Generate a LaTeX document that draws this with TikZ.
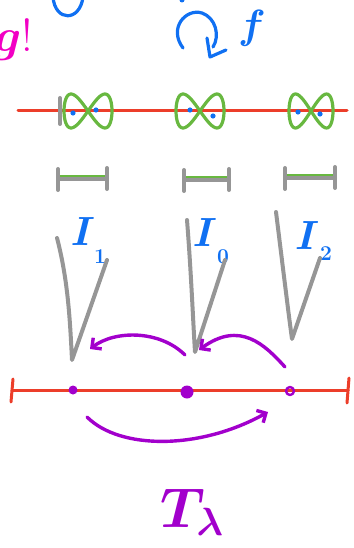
\documentclass[tikz,border=0pt]{standalone}
\usepackage{fix-cm}
\usepackage{amsmath}
\usepackage{amssymb}
\usepackage{tikz}
\usetikzlibrary{arrows.meta, positioning}

\definecolor{hred}{RGB}{236,62,42}
\definecolor{hgreen}{RGB}{104,184,64}
\definecolor{hblue}{RGB}{16,112,242}
\definecolor{hgray}{RGB}{150,150,150}
\definecolor{hpurple}{RGB}{162,0,204}
\definecolor{hpink}{RGB}{242,0,196}

\begin{document}
\begin{tikzpicture}[x=0.5mm, y=-0.5mm, line cap=round, line join=round,
    >={Straight Barb[length=3.5mm, width=7mm]},
    redline/.style={draw=hred, line width=1.5mm},
    grayline/.style={draw=hgray, line width=2mm},
    greenline/.style={draw=hgreen, line width=1.6mm},
    bluestroke/.style={draw=hblue, line width=1.6mm},
    purplestroke/.style={draw=hpurple, line width=1.7mm},
    bluetext/.style={text=hblue, inner sep=0pt, font=\fontsize{58}{58}\selectfont\boldmath},
    subtext/.style={bluetext, font=\fontsize{30}{30}\selectfont\boldmath},
    pdot/.style={circle, fill=hpurple, inner sep=0pt}]

\useasboundingbox (0,0) rectangle (353,548);
\clip (0,0) rectangle (353,548);

% 左上角
\node[text=hpink, anchor=east, inner sep=0pt, font=\fontsize{66}{66}\selectfont\boldmath] (gmark) at (33,40) {$g$!};
\draw[bluestroke] (53,-3) .. controls (55,22) and (80,22) .. (83,-3);
\fill[hblue] (182,0) circle (2.5);

% 映射 f
\draw[bluestroke] (183,48) .. controls (168,28) and (186,8) .. (202,13) .. controls (216,18) and (220,36) .. (213,47);
\draw[bluestroke] (207,38) -- (210,57) -- (226,50);
\node[bluetext] (lblf) at (252,28) {$f$};

% 上面的红线
\draw[redline] (18,111) -- (347,111);
\draw[grayline] (60,98) -- (60,124);
\foreach \cx/\a/\nm in {88/24/one, 200/24/zero, 311/22/two} {
    \draw[greenline, domain=0:360, samples=72, smooth, variable=\t]
        plot ({\cx+\a*cos(\t)}, {111+17*sin(2*\t)});
    \coordinate (loop\nm) at (\cx,111);
}
\foreach \px/\py in {73/113, 96/110, 190/110, 213/116, 298/112, 320/114}
    \fill[hblue] (\px,\py) circle (2.6);

% 区间
\foreach \l/\r/\yy in {58/107/179, 184/229/180, 285/335/178} {
    \draw[greenline] (\l+2,\yy-2) -- (\r-2,\yy-2);
    \draw[grayline] (\l,\yy) -- (\r,\yy);
    \draw[grayline] (\l,\yy-10) -- (\l,\yy+11);
    \draw[grayline] (\r,\yy-11) -- (\r,\yy+10);
}

% 标注 I
\node[bluetext] (lblone) at (83,232) {$I$};
\node[subtext] (subone) at (100,257) {$1$};
\node[bluetext] (lblzero) at (205,233) {$I$};
\node[subtext] (subzero) at (223,257) {$0$};
\node[bluetext] (lbltwo) at (307,236) {$I$};
\node[subtext] (subtwo) at (326,254) {$2$};

% 漏斗形
\coordinate (tipone) at (72,360);
\coordinate (tipzero) at (195,352);
\coordinate (tiptwo) at (292,339);
\draw[grayline] (57,238) .. controls (68,280) and (70,320) .. (tipone) -- (107,260);
\draw[grayline] (187,220) .. controls (191,270) and (193,320) .. (tipzero) -- (225,260);
\draw[grayline] (276,212) .. controls (282,260) and (288,310) .. (tiptwo) -- (320,258);

% 紫色箭头
\coordinate (arrAs) at (185,355);
\coordinate (arrAe) at (90,349);
\coordinate (arrBs) at (285,367);
\coordinate (arrBe) at (199,350);
\draw[purplestroke, ->] (arrAs) .. controls (160,330) and (115,330) .. (arrAe);
\draw[purplestroke, ->] (arrBs) .. controls (265,345) and (240,320) .. (arrBe);

% 下面的红线
\draw[redline] (12,390) -- (348,390);
\draw[redline] (13,379) -- (11,402);
\draw[redline] (349,378) -- (347,403);
\node[pdot, minimum size=4.5mm] (pone) at (73,390) {};
\node[pdot, minimum size=6.5mm] (pzero) at (187,392) {};
\node[circle, draw=hpurple, line width=1.2mm, minimum size=4mm, inner sep=0pt] (ptwo) at (290,391) {};

% T_lambda
\coordinate (arrCs) at (87,417);
\coordinate (arrCe) at (268,412);
\draw[purplestroke, ->] (arrCs) .. controls (120,450) and (200,450) .. (arrCe);
\node[text=hpurple, inner sep=0pt, font=\fontsize{80}{80}\selectfont\boldmath] (lblT) at (192,512) {$T_{\lambda}$};

\end{tikzpicture}
\end{document}
